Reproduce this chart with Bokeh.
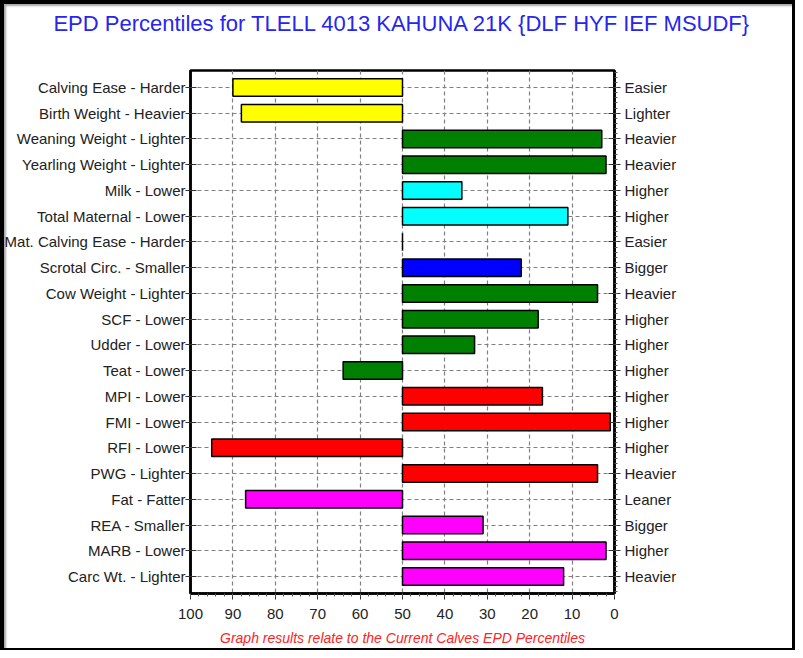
from bokeh.plotting import figure
from bokeh.models import Range1d, FixedTicker, LinearAxis, Title
from bokeh.embed import file_html
from bokeh.resources import INLINE

title_text = "EPD Percentiles for TLELL 4013 KAHUNA 21K {DLF HYF IEF MSUDF}"
footer_text = "Graph results relate to the Current Calves EPD Percentiles"

traits = [
    "Calving Ease - Harder", "Birth Weight - Heavier", "Weaning Weight - Lighter",
    "Yearling Weight - Lighter", "Milk - Lower", "Total Maternal - Lower",
    "Mat. Calving Ease - Harder", "Scrotal Circ. - Smaller", "Cow Weight - Lighter",
    "SCF - Lower", "Udder - Lower", "Teat - Lower", "MPI - Lower", "FMI - Lower",
    "RFI - Lower", "PWG - Lighter", "Fat - Fatter", "REA - Smaller",
    "MARB - Lower", "Carc Wt. - Lighter",
]
right_labels = [
    "Easier", "Lighter", "Heavier", "Heavier", "Higher", "Higher", "Easier",
    "Bigger", "Heavier", "Higher", "Higher", "Higher", "Higher", "Higher",
    "Higher", "Heavier", "Leaner", "Bigger", "Higher", "Heavier",
]
percentiles = [90, 88, 3, 2, 36, 11, 50, 22, 4, 18, 33, 64, 17, 1, 95, 4, 87, 31, 2, 12]
bar_colors = [
    "#FFFF00", "#FFFF00", "#008000", "#008000", "#00FFFF", "#00FFFF", "#00FFFF",
    "#0000FF", "#008000", "#008000", "#008000", "#008000", "#FF0000", "#FF0000",
    "#FF0000", "#FF0000", "#FF00FF", "#FF00FF", "#FF00FF", "#FF00FF",
]
x_ticks = list(range(0, 101, 10))
midpoint = 50

n = len(traits)
rows = list(range(n))

W, H = 795, 650
FONT = "Liberation Sans"

p = figure(
    width=W, height=H, title=None,
    x_range=Range1d(100, 0),
    y_range=Range1d(n - 1 + 0.66, -0.66),
    output_backend="svg", toolbar_location=None,
    min_border_left=190, min_border_right=181,
    min_border_top=70, min_border_bottom=57,
    x_axis_location="below", y_axis_location="left",
)
p.stylesheets = [
    ":host::after { content: ''; position: absolute; left: 0; top: 0; right: 0; bottom: 0;"
    " border-style: solid; border-color: black; border-width: 4px 3px 2px 4px;"
    " box-shadow: inset 2px 2px 2px rgba(0,0,0,0.35);"
    " pointer-events: none; z-index: 100; }"
]
p.background_fill_color = "white"
p.border_fill_color = "white"
p.outline_line_color = "black"
p.outline_line_width = 2.5

# title (with a small spacer between it and the plot frame)
p.add_layout(Title(text=" ", text_font_size="1px", standoff=32), "above")
p.add_layout(Title(text=title_text, align="center", text_font=FONT,
                   text_font_size="22px", text_color="#2626EE",
                   text_font_style="normal", standoff=0), "above")

p.hbar(y=rows, left=midpoint, right=percentiles, height=0.68,
       fill_color=bar_colors, line_color="black", line_width=1.5)

# x axis
xa = p.xaxis[0]
xa.ticker = FixedTicker(ticks=x_ticks, minor_ticks=list(range(0, 101, 2)))
xa.major_label_text_font = FONT
xa.major_label_text_font_size = "15px"
xa.major_label_text_color = "#222222"
xa.major_tick_in = 0
xa.major_tick_out = 6
xa.minor_tick_in = 0
xa.minor_tick_out = 3
xa.major_label_standoff = 9
xa.axis_line_width = 2.5
xa.major_tick_line_color = "#333333"
xa.minor_tick_line_color = "#555555"

# left axis
ya = p.yaxis[0]
ya.ticker = FixedTicker(ticks=rows, minor_ticks=[])
ya.major_label_overrides = {i: t for i, t in enumerate(traits)}
ya.major_label_text_font = FONT
ya.major_label_text_font_size = "15px"
ya.major_label_text_color = "#222222"
ya.major_tick_in = 6
ya.major_tick_out = 5
ya.minor_tick_in = 0
ya.minor_tick_out = 0
ya.major_label_standoff = 0
ya.axis_line_width = 2.5
ya.major_tick_line_color = "#333333"

# right axis
ra = LinearAxis(ticker=FixedTicker(ticks=rows,
                                   minor_ticks=[i / 5 for i in range(-3, 5 * n - 1)]))
ra.major_label_overrides = {i: t for i, t in enumerate(right_labels)}
ra.major_label_text_font = FONT
ra.major_label_text_font_size = "15px"
ra.major_label_text_color = "#222222"
ra.major_tick_in = 6
ra.major_tick_out = 6
ra.minor_tick_in = 0
ra.minor_tick_out = 3
ra.major_label_standoff = 4
ra.axis_line_width = 2.5
ra.major_tick_line_color = "#333333"
ra.minor_tick_line_color = "#555555"
p.add_layout(ra, "right")

# grids
p.xgrid.ticker = FixedTicker(ticks=x_ticks)
p.ygrid.ticker = FixedTicker(ticks=rows)
for g in (p.xgrid[0], p.ygrid[0]):
    g.grid_line_color = "#808080"
    g.grid_line_dash = "4 3"
    g.grid_line_width = 1.2

# footer (with a small spacer below the x axis)
p.add_layout(Title(text=" ", text_font_size="1px", standoff=3), "below")
p.add_layout(Title(text=footer_text, align="center", text_font=FONT,
                   text_font_size="14px", text_font_style="italic",
                   text_color="#FF2222", standoff=0), "below")

open("out.html", "w").write(file_html(p, INLINE))
